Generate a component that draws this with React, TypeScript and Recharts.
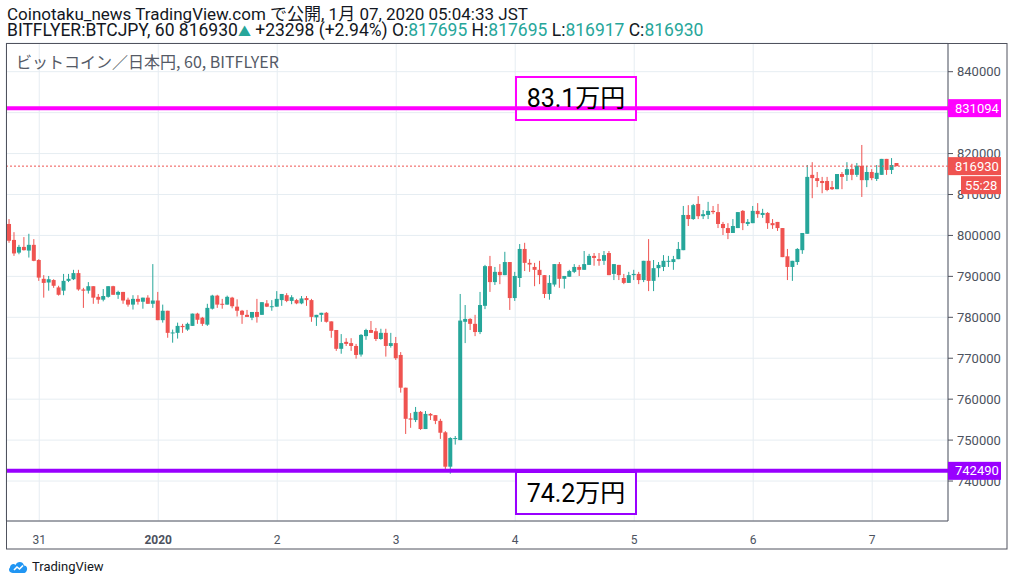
import React from 'react';
import {
  ComposedChart,
  Bar,
  XAxis,
  YAxis,
  CartesianGrid,
  ReferenceLine,
  ReferenceArea,
  Label,
} from 'recharts';

// Hourly candles, BITFLYER BTC/JPY, Dec 30 18:00 -> Jan 7 05:00 JST
const opens = [
  802800, 798900, 795800, 797200, 796300, 797700, 794000, 789400, 788500, 789100,
  787300, 786500, 788900, 789300, 790800, 786800, 786500, 787600, 785000, 784300,
  785000, 787600, 785500, 786200, 784300, 783100, 784500, 783800, 784800, 783300,
  784100, 779300, 781600, 776100, 776200, 777900, 777000, 777900, 780900, 779900,
  778200, 782100, 785300, 783300, 783100, 784800, 782600, 781600, 780600, 779900,
  781300, 780600, 783400, 782600, 782600, 784200, 785400, 784000, 784200, 783400,
  784700, 784200, 780000, 780600, 781100, 779000, 776900, 772300, 774000, 773700,
  773000, 770900, 775400, 776900, 776600, 774700, 776200, 773000, 773700, 770800,
  762800, 755300, 754900, 756900, 752700, 756400, 756100, 754700, 751900, 743500,
  750300, 750000, 778900, 779600, 778400, 776400, 782800, 792500, 788600, 791100,
  790300, 793500, 784700, 789600, 796700, 793300, 792300, 791600, 790300, 785700,
  788000, 793000, 789400, 789900, 791100, 792300, 791600, 792800, 795000, 794200,
  793800, 795700, 790600, 792800, 789600, 788400, 790300, 790600, 789100, 793800,
  788900, 792000, 792300, 793700, 793500, 794200, 796400, 805000, 804000, 807700,
  804700, 805000, 806000, 805700, 802800, 801800, 800600, 801800, 806000, 802800,
  803000, 806000, 805000, 805500, 803000, 803300, 801800, 794900, 792300, 793500,
  796400, 800400, 814800, 814000, 813300, 813300, 811800, 811300, 815000, 814800,
  816200, 814800, 817000, 813500, 815500, 813800, 814800, 818700, 816000, 817695,
];
const highs = [
  804000, 800800, 797700, 799600, 800400, 799100, 794200, 790300, 790100, 789300,
  787700, 790600, 790600, 791600, 791600, 787200, 788600, 787600, 785700, 786900,
  787600, 787700, 786500, 786200, 784800, 785400, 785400, 784800, 785400, 793000,
  786200, 783100, 781600, 777000, 778700, 778400, 778700, 780900, 781100, 780100,
  783300, 785500, 785500, 784500, 785300, 785000, 784400, 781800, 781800, 781300,
  784500, 783700, 784200, 784200, 786400, 785700, 785900, 785400, 784500, 785200,
  785200, 784500, 780600, 781100, 781300, 779000, 776900, 775900, 774900, 774900,
  773500, 775900, 777200, 779100, 777400, 777200, 777200, 776200, 775200, 771500,
  762800, 756600, 758100, 757100, 757100, 756600, 756100, 755200, 752200, 750700,
  751000, 785700, 783000, 779800, 780600, 786200, 792800, 795000, 792300, 793000,
  796000, 793500, 791100, 797900, 798200, 794200, 793300, 793800, 790300, 790300,
  793000, 793500, 790100, 791600, 793000, 792800, 796200, 795500, 795700, 795700,
  796200, 796200, 793000, 792800, 790600, 791100, 791600, 791100, 793800, 799100,
  794000, 793500, 795200, 795000, 795000, 798400, 807200, 807400, 807700, 809600,
  806200, 808200, 807200, 807700, 803300, 803000, 804000, 805700, 806200, 804000,
  807200, 807900, 806500, 805700, 804000, 803300, 801800, 796700, 793800, 796900,
  800600, 817200, 817900, 815500, 814300, 814300, 813300, 815000, 815500, 817900,
  817500, 817700, 822100, 817000, 816200, 817200, 818700, 818700, 818900, 817695,
];
const lows = [
  798200, 795000, 795400, 796300, 794600, 793700, 788900, 784800, 786500, 787200,
  785300, 785400, 788600, 789100, 786500, 782300, 785800, 783300, 783300, 783900,
  784800, 785500, 784500, 783300, 782600, 781900, 783100, 782100, 783300, 782300,
  779300, 778700, 775000, 773800, 774800, 776200, 776700, 777900, 778400, 777900,
  777900, 781900, 782300, 782100, 783100, 782200, 780200, 778400, 780100, 779300,
  778700, 780600, 782500, 781600, 782600, 782800, 783700, 783200, 783200, 783200,
  782800, 778900, 777900, 778900, 778700, 775000, 771800, 771100, 773000, 771800,
  769900, 770400, 774500, 776200, 774200, 774500, 770400, 772600, 769600, 761600,
  751500, 753000, 754400, 752500, 752700, 754900, 753900, 750300, 742500, 741800,
  748900, 750000, 773700, 776900, 775400, 775900, 782000, 786200, 787900, 788100,
  790300, 781800, 784000, 787400, 791300, 791100, 787600, 788100, 784700, 784300,
  787500, 787200, 787000, 789900, 790800, 790100, 791600, 792800, 792600, 792600,
  792800, 790300, 789100, 789100, 788100, 788400, 789100, 788100, 788600, 786400,
  786400, 789800, 791300, 792300, 791600, 794200, 796400, 802300, 803800, 804000,
  804000, 804000, 805200, 801800, 800100, 799100, 800600, 801800, 801300, 802300,
  803000, 804300, 804300, 801600, 801600, 801100, 794700, 789100, 788900, 792800,
  795500, 800400, 809100, 811800, 810300, 810800, 811100, 811300, 811300, 813300,
  813500, 814300, 809400, 811800, 813500, 813300, 814800, 814800, 815000, 816917,
];
const closes = [
  798700, 795600, 797200, 796400, 797700, 793800, 789700, 788400, 789300, 787700,
  785500, 788900, 789400, 790800, 786800, 786500, 787600, 784800, 784300, 785200,
  787600, 785500, 786200, 784100, 783100, 784500, 783800, 784800, 783300, 784100,
  779300, 781600, 776200, 776300, 777900, 777600, 778400, 780900, 779400, 778400,
  782300, 785300, 783100, 783100, 785000, 782700, 781600, 780600, 780100, 781300,
  780100, 783700, 782600, 782700, 784500, 785700, 784000, 784900, 783400, 784600,
  784200, 780100, 780600, 781100, 778900, 776700, 772300, 773700, 773500, 773000,
  770800, 775700, 776900, 776200, 774700, 776200, 773000, 773700, 770000, 762800,
  755200, 755000, 756900, 752700, 756400, 756000, 754700, 751800, 743500, 750500,
  750500, 779200, 779600, 778400, 776400, 783000, 792500, 788600, 791100, 790300,
  793500, 784700, 790100, 796700, 793300, 792900, 791600, 790300, 785700, 788400,
  793000, 789400, 790100, 791300, 792300, 791600, 793000, 795000, 794500, 793800,
  795200, 790300, 793000, 790300, 788400, 790300, 790600, 789100, 793800, 788900,
  792000, 792800, 793800, 793800, 794200, 796700, 805000, 804000, 807400, 804700,
  805200, 806000, 805700, 802800, 801800, 800600, 802300, 805700, 803000, 803300,
  806000, 805200, 805500, 803000, 802500, 801800, 794700, 792300, 793800, 796700,
  800600, 814300, 814000, 813300, 812800, 811100, 811300, 815000, 814300, 816200,
  814800, 817000, 813500, 815500, 814000, 815300, 818700, 816000, 817200, 816930,
];

const timeTicks = [6, 30, 54, 78, 102, 126, 150, 174];
const timeLabels = ['31', '2020', '2', '3', '4', '5', '6', '7'];
const priceTicks = [740000, 750000, 760000, 770000, 780000, 790000, 800000, 810000, 820000, 830000, 840000];

const resistance = 831094;
const support = 742490;
const lastPrice = 816930;
const countdown = '55:28';

const data = opens.map((o, i) => ({ i, o, h: highs[i], l: lows[i], c: closes[i] }));

const UP = '#26a69a';
const DOWN = '#ef5350';
const MAGENTA = '#ff00ff';
const PURPLE = '#9900ff';
const FONT = "Roboto, 'Noto Sans CJK JP', sans-serif";
const CJK_FONT = "'Noto Sans CJK JP', sans-serif";

const X_DOMAIN: [number, number] = [-0.706, 189.29];
const Y_DOMAIN: [number, number] = [730236, 847011];
const MARGIN = { top: 43, right: 7, bottom: 37, left: 6 };

const Candle = (props: any) => {
  const { x, y, width, height, payload } = props;
  if (x == null || y == null || !payload) return null;
  const { o, h, l, c } = payload;
  const up = c >= o;
  const color = up ? UP : DOWN;
  const top = Math.min(y, y + height);
  const bot = Math.max(y, y + height);
  const ratio = (bot - top) / (h - l || 1);
  const yO = top + (h - o) * ratio;
  const yC = top + (h - c) * ratio;
  const bodyTop = Math.min(yO, yC);
  const bodyH = Math.max(1, Math.abs(yO - yC));
  const cx = x + width / 2;
  return (
    <g>
      <rect x={cx - 0.5} y={top} width={1} height={Math.max(1, bot - top)} fill={color} />
      <rect x={cx - 2} y={bodyTop} width={4} height={bodyH} fill={color} />
    </g>
  );
};

const TimeTick = (props: any) => {
  const { x, y, payload } = props;
  const idx = timeTicks.indexOf(payload.value);
  const label = idx >= 0 ? timeLabels[idx] : '';
  return (
    <text
      x={x}
      y={y + 15}
      textAnchor="middle"
      fontSize={12}
      fontFamily={FONT}
      fontWeight={label === '2020' ? 700 : 400}
      fill="#4c525e"
    >
      {label}
    </text>
  );
};

const priceTag = (bg: string, value: string, sub?: string) => (props: any) => {
  const vb = props.viewBox || {};
  const x = (vb.x || 0) + (vb.width || 0);
  const y = vb.y || 0;
  return (
    <g>
      <rect x={x} y={y - 9} width={53} height={18} fill={bg} />
      <text x={x + 7} y={y + 4.5} fill="#fff" fontSize={13} fontFamily={FONT}>
        {value}
      </text>
      {sub ? (
        <g>
          <rect x={x + 13} y={y + 10} width={40} height={18} fill={bg} />
          <text x={x + 17} y={y + 23.5} fill="#fff" fontSize={13} fontFamily={FONT}>
            {sub}
          </text>
        </g>
      ) : null}
    </g>
  );
};

export default function App() {
  return (
    <div
      style={{
        position: 'fixed',
        left: 0,
        top: 0,
        width: 1014,
        height: 586,
        background: '#ffffff',
        fontFamily: FONT,
        overflow: 'hidden',
      }}
    >
      <div
        style={{
          position: 'absolute',
          left: 7,
          top: 6,
          fontSize: 17,
          lineHeight: '17px',
          color: '#131722',
          whiteSpace: 'nowrap',
        }}
      >
        Coinotaku_news TradingView.com で公開, 1月 07, 2020 05:04:33 JST
      </div>
      <div
        style={{
          position: 'absolute',
          left: 7,
          top: 22,
          fontSize: 17.5,
          lineHeight: '17px',
          color: '#131722',
          whiteSpace: 'nowrap',
        }}
      >
        BITFLYER:BTCJPY, 60 816930<span style={{ color: UP, fontSize: 13 }}>▲</span> +23298 (+2.94%) O:
        <span style={{ color: UP }}>817695</span> H:<span style={{ color: UP }}>817695</span> L:
        <span style={{ color: UP }}>816917</span> C:<span style={{ color: UP }}>816930</span>
      </div>

      {/* layer 1: grid and axes */}
      <div style={{ position: 'absolute', left: 0, top: 0 }}>
        <ComposedChart width={1014} height={586} data={data} margin={MARGIN}>
          <CartesianGrid stroke="#e6edf2" strokeWidth={1} />
          <XAxis
            dataKey="i"
            type="number"
            domain={X_DOMAIN}
            allowDataOverflow
            ticks={timeTicks}
            tick={<TimeTick />}
            tickLine={false}
            axisLine={{ stroke: '#50535e' }}
            height={28}
            interval={0}
          />
          <YAxis
            orientation="right"
            domain={Y_DOMAIN}
            allowDataOverflow
            ticks={priceTicks}
            interval={0}
            width={59}
            tickSize={5}
            tickMargin={4}
            tickLine={{ stroke: '#50535e' }}
            axisLine={{ stroke: '#50535e' }}
            tick={{ fontSize: 13, fill: '#4c525e', fontFamily: FONT }}
          />
        </ComposedChart>
      </div>

      {/* layer 2: candles, drawings and price tags */}
      <div style={{ position: 'absolute', left: 0, top: 0 }}>
        <ComposedChart width={1014} height={586} data={data} margin={MARGIN}>
          <XAxis
            dataKey="i"
            type="number"
            domain={X_DOMAIN}
            allowDataOverflow
            ticks={timeTicks}
            tick={false}
            tickLine={false}
            axisLine={false}
            height={28}
          />
          <YAxis
            orientation="right"
            domain={Y_DOMAIN}
            allowDataOverflow
            ticks={priceTicks}
            width={59}
            tick={false}
            tickLine={false}
            axisLine={false}
          />
          <Bar
            dataKey={(d: any) => [d.l, d.h]}
            shape={<Candle />}
            barSize={4}
            isAnimationActive={false}
          />
          <ReferenceLine
            y={lastPrice}
            stroke={DOWN}
            strokeDasharray="2 2"
            strokeWidth={1}
            label={priceTag(DOWN, String(lastPrice), countdown)}
          />
          <ReferenceLine
            y={resistance}
            stroke={MAGENTA}
            strokeWidth={4}
            label={priceTag(MAGENTA, String(resistance))}
          />
          <ReferenceLine
            y={support}
            stroke={PURPLE}
            strokeWidth={4}
            label={priceTag(PURPLE, String(support))}
          />
          <ReferenceArea
            x1={102.16}
            x2={126.36}
            y1={828200}
            y2={838705}
            fill="#ffffff"
            fillOpacity={1}
            stroke={MAGENTA}
            strokeWidth={2}
          >
            <Label value="83.1万円" position="center" fontSize={25} fill="#000" fontFamily={FONT} />
          </ReferenceArea>
          <ReferenceArea
            x1={102.16}
            x2={126.36}
            y1={731946}
            y2={742207}
            fill="#ffffff"
            fillOpacity={1}
            stroke={PURPLE}
            strokeWidth={2}
          >
            <Label value="74.2万円" position="center" fontSize={25} fill="#000" fontFamily={FONT} />
          </ReferenceArea>
        </ComposedChart>
      </div>

      <div
        style={{
          position: 'absolute',
          left: 16,
          top: 52.7,
          fontSize: 16,
          lineHeight: '16px',
          fontFamily: CJK_FONT,
          color: '#555a66',
          whiteSpace: 'nowrap',
        }}
      >
        ビットコイン／日本円, 60, BITFLYER
      </div>

      <svg
        width={1014}
        height={586}
        style={{ position: 'absolute', left: 0, top: 0, pointerEvents: 'none' }}
      >
        <rect x={6.5} y={43.5} width={1000.5} height={505.5} fill="none" stroke="#50535e" strokeWidth={1} />
        <g transform="translate(8,559)">
          <path
            d="M5 14 C1 14 0 10 2 8.5 C2 5 6 4 7.5 6 C9 2 15 2 16 6.5 C19 6.5 20 10 18.5 12 C18 13.5 17 14 15.5 14 Z"
            fill="#2196f3"
          />
          <path d="M6 11 L9 8 L11.5 10 L15 6.5" stroke="#ffffff" strokeWidth={1.6} fill="none" />
        </g>
      </svg>
      <div style={{ position: 'absolute', left: 32, top: 559, fontSize: 13, color: '#131722', whiteSpace: 'nowrap' }}>
        TradingView
      </div>
    </div>
  );
}
